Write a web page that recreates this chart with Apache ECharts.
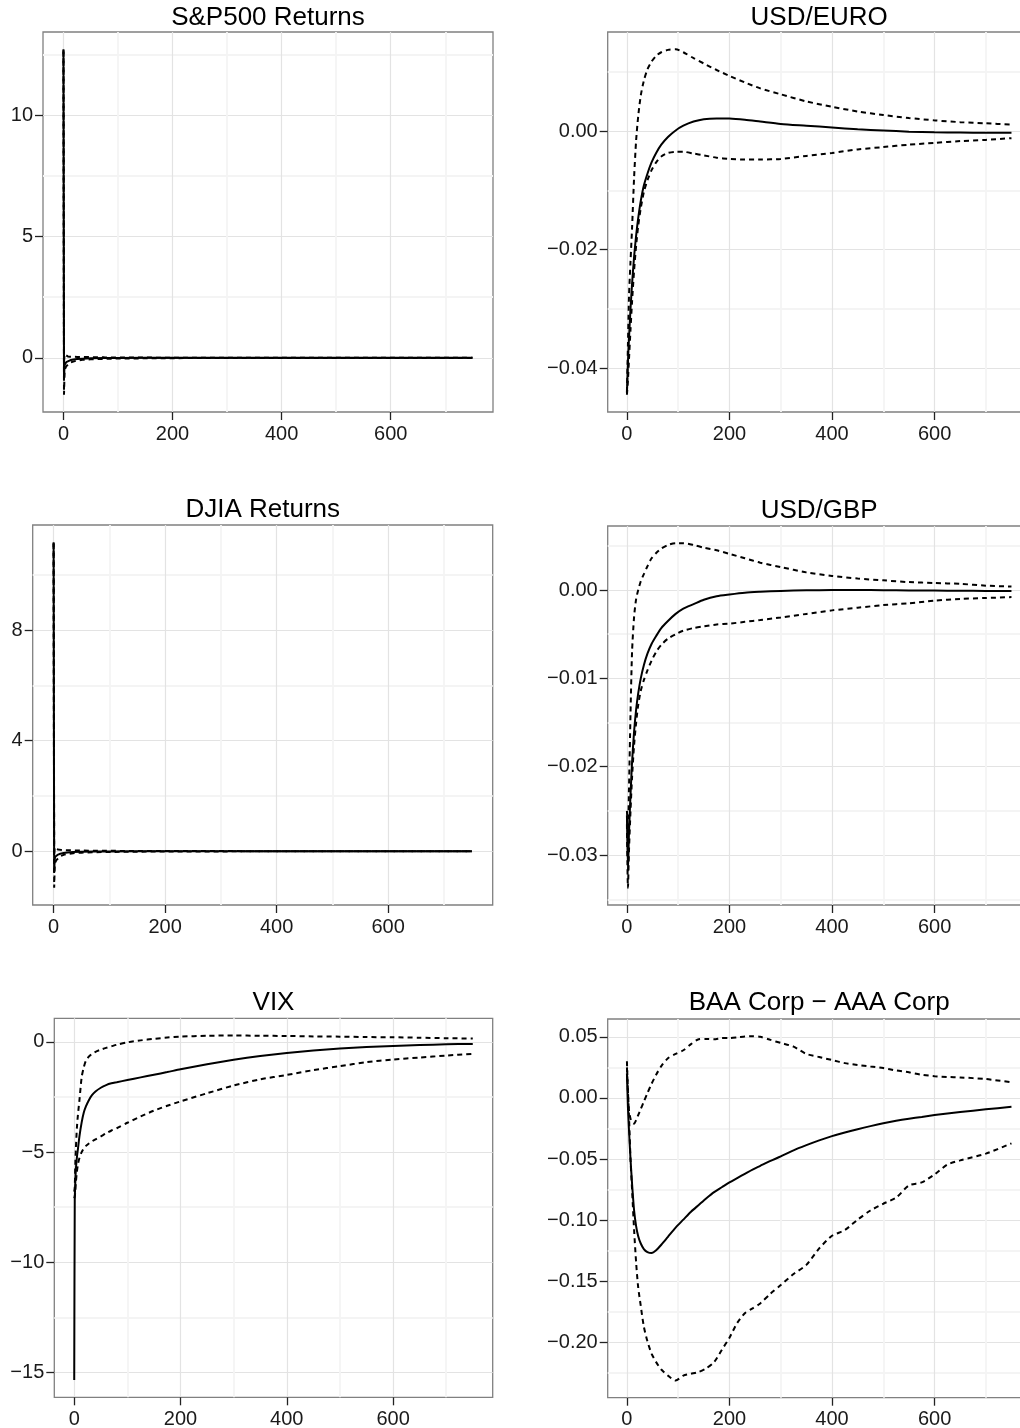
<!DOCTYPE html>
<html><head><meta charset="utf-8">
<script src="https://cdn.jsdelivr.net/npm/echarts@6/dist/echarts.min.js"></script>
<style>html,body{margin:0;padding:0;background:#fff;overflow:hidden}#c{width:1020px;height:1428px}</style>
</head><body><div id="c"></div>
<script>
// ---------------- DATA ----------------
const horizonSpike = [0,1,2,3,5,8,12,18,25,35,50,75,100,150,200,300,400,500,600,750];
const spIrf   = [12.68,-0.85,-0.3,-0.22,-0.18,-0.14,-0.1,-0.07,-0.05,-0.035,-0.02,-0.01,-0.005,0,0,0,0,0,0,0];
const spUpper = [12.72,-0.2,0.15,0.1,0.08,0.06,0.05,0.045,0.04,0.035,0.03,0.02,0.015,0.01,0.008,0.005,0.003,0.002,0.001,0.001];
const spLower = [12.62,-1.52,-0.6,-0.45,-0.35,-0.28,-0.2,-0.15,-0.11,-0.08,-0.06,-0.04,-0.03,-0.02,-0.012,-0.006,-0.003,-0.002,-0.001,-0.001];

const djIrf   = [11.15,-0.75,-0.28,-0.2,-0.16,-0.12,-0.09,-0.06,-0.045,-0.03,-0.02,-0.01,-0.005,0,0,0,0,0,0,0];
const djUpper = [11.18,-0.15,0.14,0.1,0.08,0.06,0.05,0.04,0.035,0.03,0.025,0.02,0.015,0.01,0.008,0.005,0.003,0.002,0.001,0.001];
const djLower = [11.12,-1.32,-0.55,-0.4,-0.32,-0.25,-0.18,-0.13,-0.1,-0.07,-0.05,-0.035,-0.025,-0.015,-0.01,-0.005,-0.003,-0.002,-0.001,-0.001];

const horizonFX = [0,2,4,7,10,14,18,22,27,33,40,48,57,67,80,95,110,130,150,175,200,230,260,300,350,400,450,500,550,600,650,700,750];
const euroIrf   = [-0.0442,-0.0390,-0.0350,-0.0300,-0.0258,-0.0212,-0.0176,-0.0147,-0.0118,-0.0092,-0.0072,-0.0053,-0.0037,-0.0023,-0.0010,0.0001,0.0009,0.0016,0.0020,0.00212,0.0021,0.0019,0.0016,0.0012,0.0009,0.0006,0.0003,0.0001,-0.0001,-0.0002,-0.00025,-0.0003,-0.0003];
const euroUpper = [-0.0440,-0.0360,-0.0280,-0.0220,-0.0164,-0.0078,-0.0015,0.0025,0.0060,0.0085,0.0104,0.0117,0.0127,0.0133,0.0137,0.0138,0.0133,0.0123,0.0114,0.0103,0.0093,0.0082,0.0072,0.0062,0.0050,0.0041,0.0033,0.0027,0.0022,0.0018,0.0015,0.0013,0.0011];
const euroLower = [-0.0445,-0.0420,-0.0385,-0.0335,-0.0288,-0.0235,-0.0193,-0.0160,-0.0130,-0.0103,-0.0083,-0.0066,-0.0053,-0.0043,-0.0037,-0.0035,-0.0035,-0.0038,-0.0041,-0.0045,-0.0047,-0.0048,-0.0048,-0.0047,-0.0042,-0.0037,-0.0031,-0.0027,-0.0023,-0.0020,-0.0017,-0.0015,-0.0012];

const gbpIrf   = [-0.0255,-0.0318,-0.0275,-0.0232,-0.0195,-0.0160,-0.0135,-0.0117,-0.0100,-0.0085,-0.0072,-0.0061,-0.0052,-0.0043,-0.0035,-0.0027,-0.0021,-0.0016,-0.0011,-0.0007,-0.0005,-0.0003,-0.0002,-0.0001,-0.00003,0.0000,0.0000,-0.00002,-0.00004,-0.00006,-0.00008,-0.0001,-0.0001];
const gbpUpper = [-0.0250,-0.0270,-0.0225,-0.0140,-0.0070,-0.0030,-0.0010,0.0000,0.0010,0.0018,0.0027,0.0036,0.0042,0.0047,0.0051,0.0053,0.0053,0.0051,0.0048,0.0045,0.0041,0.0036,0.0031,0.0026,0.0020,0.0016,0.0013,0.0011,0.0009,0.0008,0.0007,0.0005,0.0004];
const gbpLower = [-0.0265,-0.0337,-0.0295,-0.0250,-0.0212,-0.0175,-0.0150,-0.0130,-0.0114,-0.0102,-0.0091,-0.0080,-0.0070,-0.0062,-0.0055,-0.0050,-0.0046,-0.0043,-0.0041,-0.0039,-0.0038,-0.0036,-0.0034,-0.0031,-0.0027,-0.0023,-0.0020,-0.0017,-0.0015,-0.0012,-0.0010,-0.0009,-0.0008];

const horizonVIX = [0,1,2,3,5,7,10,14,18,22,27,33,40,50,60,70,80,100,125,150,175,200,250,300,350,400,450,500,550,600,650,700,750];
const vixIrf   = [-15.35,-7.2,-6.4,-5.8,-5.25,-4.85,-4.25,-3.65,-3.2,-2.93,-2.67,-2.43,-2.25,-2.08,-1.96,-1.88,-1.83,-1.73,-1.61,-1.49,-1.37,-1.24,-1.01,-0.81,-0.64,-0.50,-0.39,-0.30,-0.23,-0.18,-0.14,-0.11,-0.09];
const vixUpper = [-6.8,-6.6,-5.6,-4.9,-3.9,-3.3,-2.6,-1.6,-1.15,-0.85,-0.68,-0.55,-0.45,-0.35,-0.27,-0.2,-0.13,-0.02,0.07,0.14,0.2,0.24,0.28,0.29,0.28,0.27,0.25,0.24,0.22,0.21,0.19,0.17,0.15];
const vixLower = [-7.1,-7.0,-6.8,-6.4,-5.9,-5.55,-5.25,-5.0,-4.83,-4.72,-4.62,-4.52,-4.42,-4.29,-4.15,-4.02,-3.92,-3.67,-3.38,-3.12,-2.9,-2.7,-2.33,-1.98,-1.70,-1.50,-1.28,-1.10,-0.92,-0.80,-0.71,-0.62,-0.54];

const horizonBAA = [0,2,4,7,10,14,18,22,27,33,40,48,57,67,80,95,110,125,140,155,170,185,200,215,230,245,260,280,300,325,350,375,400,425,450,475,500,525,550,575,600,625,650,700,750];
const baaIrf   = [0.020,-0.008,-0.026,-0.050,-0.070,-0.092,-0.105,-0.113,-0.119,-0.1235,-0.126,-0.1268,-0.1245,-0.120,-0.1135,-0.106,-0.0995,-0.093,-0.0875,-0.082,-0.077,-0.073,-0.069,-0.0655,-0.062,-0.0585,-0.0555,-0.0515,-0.0478,-0.0428,-0.0386,-0.0347,-0.0312,-0.0282,-0.0255,-0.0230,-0.0207,-0.0187,-0.0170,-0.0155,-0.0140,-0.0127,-0.0115,-0.0093,-0.0072];
const baaUpper = [0.030,0.005,-0.010,-0.017,-0.020,-0.021,-0.018,-0.014,-0.009,-0.003,0.004,0.0115,0.019,0.026,0.0325,0.036,0.039,0.044,0.048,0.0483,0.048,0.049,0.049,0.0495,0.0502,0.0505,0.050,0.0475,0.045,0.042,0.036,0.0335,0.031,0.0285,0.027,0.0258,0.0245,0.0225,0.021,0.019,0.0178,0.0172,0.0168,0.0155,0.0128];
const baaLower = [0.025,0.005,-0.015,-0.050,-0.075,-0.108,-0.135,-0.155,-0.170,-0.187,-0.199,-0.209,-0.216,-0.222,-0.227,-0.231,-0.227,-0.2255,-0.224,-0.221,-0.216,-0.206,-0.196,-0.184,-0.176,-0.172,-0.168,-0.160,-0.153,-0.144,-0.1365,-0.123,-0.1127,-0.108,-0.0995,-0.092,-0.0865,-0.0815,-0.0715,-0.069,-0.0625,-0.0545,-0.051,-0.0455,-0.0371];

// tick values / labels
const xTicks = [0,200,400,600];
const xTickLabels = ['0','200','400','600'];
const xMinor = [100,300,500,700];

const yTicksSP = [0,5,10];            const yLabelsSP = ['0','5','10'];          const yMinorSP = [2.5,7.5,12.5];
const yTicksEuro = [-0.04,-0.02,0];   const yLabelsEuro = ['\u22120.04','\u22120.02','0.00']; const yMinorEuro = [-0.03,-0.01,0.01];
const yTicksDJ = [0,4,8];             const yLabelsDJ = ['0','4','8'];           const yMinorDJ = [2,6,10];
const yTicksGbp = [-0.03,-0.02,-0.01,0]; const yLabelsGbp = ['\u22120.03','\u22120.02','\u22120.01','0.00']; const yMinorGbp = [-0.035,-0.025,-0.015,-0.005,0.005];
const yTicksVix = [-15,-10,-5,0];     const yLabelsVix = ['\u221215','\u221210','\u22125','0']; const yMinorVix = [-12.5,-7.5,-2.5];
const yTicksBaa = [-0.2,-0.15,-0.1,-0.05,0,0.05]; const yLabelsBaa = ['\u22120.20','\u22120.15','\u22120.10','\u22120.05','0.00','0.05']; const yMinorBaa = [-0.225,-0.175,-0.125,-0.075,-0.025,0.025];

// ---------------- LAYOUT ----------------
const panels = [
  {title:'S&P500 Returns', x:horizonSpike, irf:spIrf, up:spUpper, lo:spLower, yt:yTicksSP, yl:yLabelsSP, ym:yMinorSP, rect:[43,32,450,380], ty:17.5, smooth:false},
  {title:'USD/EURO', x:horizonFX, irf:euroIrf, up:euroUpper, lo:euroLower, yt:yTicksEuro, yl:yLabelsEuro, ym:yMinorEuro, rect:[607.7,32,423,380], ty:17.5, smooth:0.25},
  {title:'DJIA Returns', x:horizonSpike, irf:djIrf, up:djUpper, lo:djLower, yt:yTicksDJ, yl:yLabelsDJ, ym:yMinorDJ, rect:[32.7,525,460,380], ty:510, smooth:false},
  {title:'USD/GBP', x:horizonFX, irf:gbpIrf, up:gbpUpper, lo:gbpLower, yt:yTicksGbp, yl:yLabelsGbp, ym:yMinorGbp, rect:[607.7,526,423,379], ty:510.5, smooth:0.25},
  {title:'VIX', x:horizonVIX, irf:vixIrf, up:vixUpper, lo:vixLower, yt:yTicksVix, yl:yLabelsVix, ym:yMinorVix, rect:[54.3,1018.3,438.4,379], ty:1002.5, smooth:0.25},
  {title:'BAA Corp \u2212 AAA Corp', x:horizonBAA, irf:baaIrf, up:baaUpper, lo:baaLower, yt:yTicksBaa, yl:yLabelsBaa, ym:yMinorBaa, rect:[607.7,1019,423,378.7], ty:1003.3, smooth:0.25}
];

const FONT = "'Liberation Sans', Arial, Helvetica, sans-serif";
const MAJOR = '#e3e3e3', MINOR = '#f4f4f4', TXT = '#1a1a1a', TICK = '#222';

function labelFor(ticks, labels){
  return v => { const i = ticks.findIndex(t => Math.abs(t - v) < 1e-9); return i >= 0 ? labels[i] : ''; };
}

const grid = [], xAxis = [], yAxis = [], series = [], graphic = [];
panels.forEach((p, i) => {
  const [l, t, w, h] = p.rect;
  grid.push({left:l, top:t, width:w, height:h, show:true, backgroundColor:'#fff', borderColor:'#808080', borderWidth:1.3, outerBoundsMode:'none', containLabel:false});
  const xs = p.x, xmin0 = Math.min(...xs), xmax0 = Math.max(...xs), xr = xmax0 - xmin0;
  const all = p.irf.concat(p.up, p.lo);
  const ymin0 = Math.min(...all), ymax0 = Math.max(...all), yr = ymax0 - ymin0;
  const xmin = xmin0 - 0.05*xr, xmax = xmax0 + 0.05*xr;
  const ymin = ymin0 - 0.05*yr, ymax = ymax0 + 0.05*yr;
  const xi = xAxis.length, yi = yAxis.length;
  xAxis.push({gridIndex:i, type:'value', position:'bottom', min:xmin, max:xmax,
    axisLine:{show:false, onZero:false},
    axisTick:{show:true, inside:false, length:8, customValues:xTicks, lineStyle:{color:TICK, width:1.3}},
    axisLabel:{show:true, customValues:xTicks, margin:12, fontSize:20, fontFamily:FONT, color:TXT, formatter:labelFor(xTicks, xTickLabels)},
    splitLine:{show:true, lineStyle:{color:MAJOR, width:1.2}}});
  xAxis.push({gridIndex:i, type:'value', position:'top', min:xmin, max:xmax,
    axisLine:{show:false, onZero:false}, axisTick:{show:false, customValues:xMinor}, axisLabel:{show:false},
    splitLine:{show:true, lineStyle:{color:MINOR, width:1.8}}});
  yAxis.push({gridIndex:i, type:'value', position:'left', min:ymin, max:ymax,
    axisLine:{show:false, onZero:false},
    axisTick:{show:true, inside:false, length:8, customValues:p.yt, lineStyle:{color:TICK, width:1.3}},
    axisLabel:{show:true, customValues:p.yt, margin:10, fontSize:20, fontFamily:FONT, color:TXT, formatter:labelFor(p.yt, p.yl)},
    splitLine:{show:true, lineStyle:{color:MAJOR, width:1.2}}});
  yAxis.push({gridIndex:i, type:'value', position:'right', min:ymin, max:ymax,
    axisLine:{show:false, onZero:false}, axisTick:{show:false, customValues:p.ym}, axisLabel:{show:false},
    splitLine:{show:true, lineStyle:{color:MINOR, width:1.8}}});
  const mk = (arr, dashed) => ({
    type:'line', xAxisIndex:xi, yAxisIndex:yi, data: xs.map((x, k) => [x, arr[k]]),
    symbol:'none', smooth:p.smooth, silent:true, z: dashed ? 3 : 4,
    lineStyle:{color:'#000', width:2, type: dashed ? [5,4] : 'solid'}
  });
  series.push(mk(p.up, true), mk(p.lo, true), mk(p.irf, false));
  graphic.push({type:'text', x:l + w/2, y:p.ty, silent:true,
    style:{text:p.title, fill:'#000', fontSize:26, fontFamily:FONT, align:'center', verticalAlign:'middle'}});
});

const chart = echarts.init(document.getElementById('c'), null, {renderer:'canvas'});
chart.setOption({animation:false, backgroundColor:'#fff', grid, xAxis, yAxis, series, graphic});
</script></body></html>
